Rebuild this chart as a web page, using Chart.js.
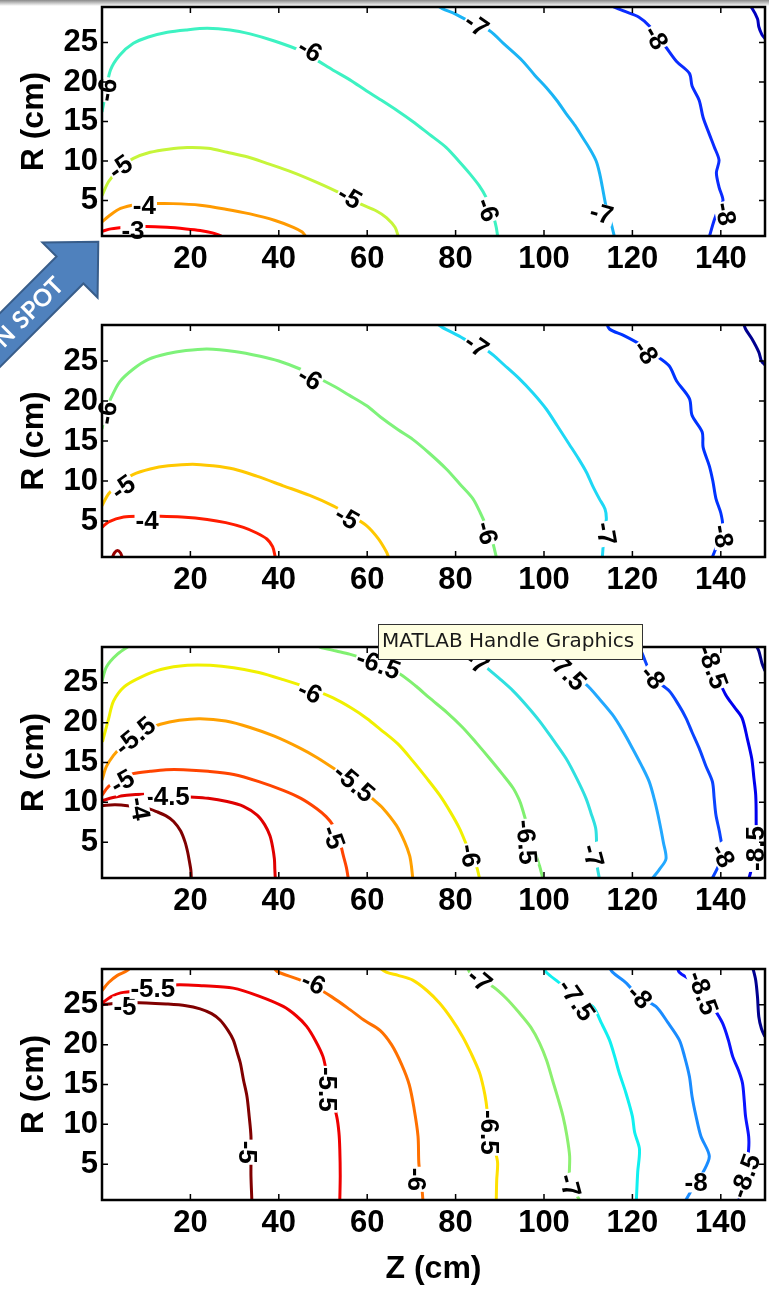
<!DOCTYPE html>
<html>
<head>
<meta charset="utf-8">
<script src="https://cdn.jsdelivr.net/npm/chart.js@4"></script>
<style>
  html, body { margin: 0; padding: 0; background: #fff; }
  body { width: 769px; height: 1289px; position: relative; overflow: hidden; }
  canvas { position: absolute; left: 0; }
  #topbar { position: absolute; left: 0; top: 0; width: 769px; height: 6px; background: linear-gradient(#8a8a8a, #ffffff); }
</style>
</head>
<body>
<div id="topbar"></div>
<canvas id="panel1" width="769" height="380" style="top:0px"></canvas>
<canvas id="panel2" width="769" height="310" style="top:300px"></canvas>
<canvas id="panel3" width="769" height="320" style="top:610px"></canvas>
<canvas id="panel4" width="769" height="349" style="top:940px"></canvas>
<script>
'use strict'

// axes (Z along the beam, R radial), both in cm
const zTicks = [20, 40, 60, 80, 100, 120, 140];
const rTicks = [5, 10, 15, 20, 25];
const zRange = [0, 150];
const rRange = [0.5, 29.5];

// ---- panel 1 contours: [Z, R] ----
const p1_levels = ['-3', '-4', '-5', '-6', '-7', '-8', '-9'];
const p1_c3 = [[0,1.1],[2,1.4],[5.6,1.6],[10,1.7],[14.7,1.6],[19,1.4],[22.2,1.2],[25,0.9],[27,0.5]];
const p1_c4 = [[0,2.3],[1.5,3],[4.2,4],[8,4.5],[11.7,4.6],[16,4.6],[22.2,4.4],[28,3.9],[33.5,3.3],[39,2.5],[43.3,1.6],[45.3,1],[46,0.5]];
const p1_c5 = [[0,5.6],[1.5,7.4],[4.2,9.2],[7,10.3],[10.9,11.1],[15,11.5],[19.3,11.7],[24,11.6],[28.3,11.1],[33,10.5],[37.3,9.7],[43,8.6],[48.6,7.3],[54,5.9],[58.3,4.6],[62,3.7],[64.4,2.8],[66.3,1.6],[67,0.5]];
const p1_c6 = [[0,16.2],[0.8,18.5],[1.9,21.5],[4,23.4],[7.1,24.9],[10.5,25.7],[14.8,26.3],[19,26.6],[23.8,26.8],[29,26.6],[33.5,26.1],[39,25.2],[44.8,24],[48.5,22.8],[52.3,21.5],[56,20.3],[59.8,18.9],[62.9,17.8],[67,16.3],[70.3,15],[74,13.4],[77.9,11.7],[80.7,10],[83.2,8.4],[85.3,6.9],[86.9,5.4],[88.3,3.5],[89.2,1.6],[89.5,0.5]];
const p1_c7 = [[75,30],[77,29.3],[80,28.6],[84.7,27.2],[87.7,26.5],[91,24.8],[95.1,22.7],[98,20.8],[100.5,19.3],[103,17.6],[105,16],[107,14.5],[108.7,13],[110.4,11.5],[111.8,10],[112.6,8.4],[113.2,6.7],[114.1,4.1],[115,2.5],[115.9,0.5]];
const p1_c8 = [[115,30],[115.5,29.6],[118,29],[121.5,28.2],[124,27],[127.6,24.4],[130,22.6],[132.9,21.1],[133.5,19.5],[135.1,17.7],[136,15.5],[137.4,13.4],[138.5,11.8],[139.6,10.1],[139,8.5],[139.6,6.7],[140.5,5],[139.6,4.1],[138.5,2.5],[137.4,0.4]];
const p1_c9 = [[146,30],[147,29.4],[148.3,28],[148.6,27],[149.3,26],[150,25.5]];
const p1_labels = [[1.2,19,'-6',-80],[47,24,'-6',30],[87.2,3.8,'-6',70],[4.2,9.2,'-5',-35],[56,5.4,'-5',30],[9.6,4.3,'-4',0],[7,1.2,'-3',0],[84.7,27.2,'-7',35],[113,3.3,'-7',15],[125.3,25.6,'-8',60],[141,3.3,'-8',80]];

// ---- panel 2 ----
const p2_levels = ['-3', '-4', '-5', '-6', '-7', '-8', '-9'];
const p2_c3 = [[2.3,0.4],[2.8,1],[3.5,1.3],[4.2,1],[4.6,0.4]];
const p2_c4 = [[0,4.2],[1.5,4.9],[4.9,5.5],[9,5.6],[13.2,5.6],[18,5.5],[23.8,5.2],[28,4.8],[32,4.2],[35,3.5],[37.3,2.75],[38.6,1.8],[39.2,0.5]];
const p2_c5 = [[0,6.9],[1.5,8.4],[4.2,9.8],[7,10.8],[10.9,11.5],[15,11.9],[20.5,12.1],[25,11.9],[29.8,11.5],[35,10.6],[41,9.4],[47,8.2],[52.3,6.9],[56.5,5.6],[59.9,4.4],[62.5,2.8],[64.4,1.1],[64.8,0.5]];
const p2_c6 = [[0,16.5],[0.8,18.5],[1.9,20.2],[4,22.4],[7.1,24],[10.5,25.2],[14.7,25.9],[19,26.3],[23.8,26.5],[30,26.2],[35.8,25.6],[40,25],[44.8,24],[48.5,23],[52.3,21.9],[56,20.7],[59.9,19.4],[63,18],[67,16.4],[70.3,15.2],[74,13.5],[77.9,11.5],[81,9.6],[83.9,7.8],[85.6,6],[86.9,4.4],[88.3,2.5],[89.2,0.5]];
const p2_c7 = [[75,30],[77,29.2],[80.5,28.2],[84.7,26.9],[87.7,26.1],[91,24.5],[94.4,22.8],[97.5,21],[100.5,19],[103,16.9],[105.7,14.6],[107.8,12.8],[109.6,11.1],[111,9.4],[112.5,7.8],[113.8,6.5],[114.1,5.2],[113.6,3.6],[113.4,2],[113.2,0.5]];
const p2_c8 = [[114,30],[114.8,29],[118,28.2],[122.3,26.9],[125,25.8],[128.3,24.4],[130,22.5],[132.9,20.3],[133.5,18.2],[135.8,16.1],[136,14.2],[137.4,11.9],[138.2,10],[138.9,7.8],[140,6],[140.4,4.4],[139.5,2.5],[138.1,0.5]];
const p2_c9 = [[145,30],[145.6,29],[147,27.8],[148.6,26.1],[149.2,25],[150,24.5]];
const p2_labels = [[1.2,18.5,'-6',-80],[47,22.8,'-6',30],[87,3.5,'-6',75],[4.8,9.2,'-5',-35],[55.4,5.4,'-5',30],[10.2,5,'-4',0],[84.7,26.9,'-7',35],[114,3.4,'-7',80],[123,26.1,'-8',55],[140.4,3.1,'-8',80]];

// ---- panel 3 ----
const p3_levels = ['-4', '-4.5', '-5', '-5.5', '-6', '-6.5', '-6.5', '-7', '-7.5', '-8', '-8.5', '-9'];
const p3_c40 = [[0,9.6],[3,9.7],[7.1,9.5],[10,9.3],[12.5,8.8],[14.5,8.3],[16.2,7.6],[17.8,6.4],[18.8,5],[19.4,3.7],[19.8,2.5],[20.1,1.5],[20.2,0.5]];
const p3_c45 = [[0,10.2],[2.5,10.6],[5.6,10.9],[10,11],[14.8,10.9],[19.3,10.7],[24,10.5],[28.3,10.1],[32,9.5],[35.1,8.4],[36.8,7.2],[38,5.8],[38.6,4.4],[39,2.9],[39.1,1.6],[39.2,0.5]];
const p3_c50 = [[0,10.9],[1.5,12],[4.2,13],[7,13.6],[10.9,13.9],[14.5,14.1],[18.4,14.1],[24,13.9],[29.8,13.5],[35.5,12.6],[41,11.5],[45,10.5],[48.6,9.2],[50.7,8.2],[52.3,7.1],[53.7,5.3],[54.6,3.3],[55.3,1.8],[55.7,0.5]];
const p3_c55 = [[0,12.8],[1,14.5],[2.6,15.9],[4.6,17.1],[7.1,18.1],[10,19.1],[13.2,19.8],[17.5,20.3],[22.2,20.5],[28,20.2],[33.5,19.4],[39,18.3],[44.8,16.8],[48.7,15.6],[52.3,14.3],[57,12.5],[61.3,10.4],[63.5,9.3],[66.6,7.1],[68.5,5],[69.6,3.3],[70,2],[70.3,0.5]];
const p3_c60 = [[0.1,17.6],[1.5,20.5],[2.6,22.7],[5,24.5],[8.7,25.7],[13.5,26.7],[19.3,27.2],[24.5,27.2],[29.8,26.9],[35.5,26.3],[41,25.4],[47,24.3],[52.3,23.1],[56.5,21.8],[60,20.5],[62.9,19.2],[67,17.3],[70.3,15.2],[73.5,13],[76.4,10.9],[78.8,8.8],[80.9,6.7],[82.6,4.5],[84.7,2],[85.4,0.5]];
const p3_c65a = [[0,25.2],[1,27],[3.5,28.6],[6.4,29.7],[8,30.2]];
const p3_c65b = [[47,30.2],[49.3,29.5],[53,29],[56,28.6],[60,27.9],[64,27],[67.4,26.1],[71,24.6],[74.1,23.1],[78,21.3],[81.6,19.4],[84.8,17.4],[87.7,15.5],[90.5,13.6],[93,11.8],[94.4,10.3],[95.1,9.2],[96.5,6.5],[97.8,4],[99,2],[99.7,0.5]];
const p3_c70 = [[82,30.2],[84.7,28],[87,26.9],[90,25.5],[93,24],[96,22.2],[99,20.2],[102,17.9],[105,15.5],[107.4,13],[109.5,10.5],[110.6,8.7],[111.7,6.7],[111.9,4.5],[111.9,2.5],[112.5,0.5]];
const p3_c75 = [[100,30.2],[101.5,28.8],[105,26.5],[109.5,24.8],[112.5,23],[115.5,21],[117.8,19],[120,16.8],[122,14.7],[123.8,12.6],[125,10.3],[126.1,7.6],[127,5],[127.6,2.9],[126,1.5],[124.6,0.5]];
const p3_c80 = [[120,30.2],[121.6,29.4],[124.6,25.7],[128.3,24],[130.5,22.2],[132.1,20.6],[133.5,18.8],[135.1,16.8],[136.6,14.6],[138.1,12.6],[138.5,10.5],[138.9,8.4],[139.8,6],[140.4,3.3],[139.3,1.8],[138.1,0.5]];
const p3_c85 = [[134.5,30.2],[135.1,29.4],[138.1,27],[141.1,23.5],[143,22],[144.8,20.6],[146,18],[147,15.5],[147.5,13],[147.9,10.9],[148,8],[147.9,4.2],[147.2,2.2],[146.4,0.5]];
const p3_c90 = [[147.5,30.2],[148.6,29],[149.3,27.5],[150,26.5]];
const p3_labels = [[62.5,27.3,'-6.5',20],[47,23.8,'-6',25],[83.2,3.3,'-6',80],[7.5,18.3,'-5.5',-40],[57,12.4,'-5.5',40],[4.6,12.6,'-5',-30],[52.3,5.6,'-5',70],[14.8,10.7,'-4.5',0],[8.5,9.2,'-4',80],[96,5,'-6.5',85],[84.7,27.6,'-7',35],[111,3.3,'-7',75],[105,26.5,'-7.5',45],[124.6,25.7,'-8',50],[140.4,3.3,'-8',60],[138.1,27,'-8.5',70],[147.9,4.2,'-8.5',-90]];

// ---- panel 4 ----
const p4_levels = ['-5', '-5.5', '-6', '-6', '-6.5', '-7', '-7.5', '-8', '-8.5', '-9'];
const p4_c50 = [[0,25],[3,25.2],[7.1,25.3],[14.7,25.1],[19,24.9],[22.2,24.5],[24.8,23.9],[26.7,23.1],[28.5,21.8],[29.7,20.6],[30.6,19],[31.3,17.7],[32,15.6],[32.8,13.5],[33.3,11],[33.7,8.5],[33.7,5],[33.7,3.5],[33.9,0.5]];
const p4_c55 = [[0,25.2],[2,26],[4.2,26.5],[10.9,26.9],[16.2,27.5],[23,27.4],[29.7,27.1],[35.5,26.1],[41,24.8],[44,23.6],[46.3,22.3],[48.3,20.5],[50,18.5],[50.8,16.5],[51.5,14.4],[53.1,11],[53.6,9],[53.8,6.9],[53.9,3.5],[53.8,0.5]];
const p4_c60a = [[0,26.8],[1.5,27.8],[3.5,28.7],[5.7,29.3],[7,30]];
const p4_c60b = [[38.5,30],[39.6,29.2],[44,28.3],[47.8,27.4],[52,26],[56.1,24.4],[59.5,23],[62.9,21.8],[65.5,20],[67.8,17.5],[69.5,15],[70.6,12],[71.5,8.5],[71.7,5],[72.3,2.5],[72.6,0.5]];
const p4_c65 = [[62,30],[64.3,29.1],[67,28.7],[70.3,28.1],[73.5,26.8],[76.4,25.2],[79,23.3],[81.6,21],[83.6,18.8],[85.4,16.5],[86.3,14.6],[86.9,12.8],[87.7,9],[88.8,7],[89.5,5.2],[89.3,3],[89.2,0.5]];
const p4_c70 = [[82.5,30],[83.2,29.1],[85.4,28.1],[88.4,27.3],[91.5,25.8],[94.4,24],[97,22.2],[99,20.2],[100.6,18],[101.9,15.6],[103.2,13.2],[104.3,11],[105.2,8.5],[105.8,6],[105.8,2.3],[107,1.5],[108,0.5]];
const p4_c75 = [[99.5,30],[100.5,29.1],[104,27.5],[107.3,25.6],[111,24.8],[113,22.7],[114.8,20.6],[116,18.5],[117,16.5],[118.5,14],[120,11],[120.5,9],[121.6,6.9],[121.2,4],[120.9,0.5]];
const p4_c80 = [[114.5,30],[115.5,29.1],[118.5,27.8],[121.6,26],[125.3,24.8],[128,22.8],[130.6,20.6],[131.8,18.5],[132.9,16],[133.5,13.5],[134.4,11],[135.5,8.5],[137.4,6],[136,4],[134.4,2.7],[132.1,0.5]];
const p4_c85 = [[130,30],[130.6,29.1],[133.5,28],[135.9,26.5],[138.5,24.5],[140.4,22.7],[141.7,20.6],[142.7,18.5],[144,16.8],[144.9,15.2],[145.3,13],[145.6,11],[146.3,8.5],[146.3,6.9],[145.6,3.5],[144.1,0.5]];
const p4_c90 = [[147,30],[147.4,29.3],[147.9,28.1],[148.3,26],[148.6,23.5],[149.2,22],[150,21]];
const p4_labels = [[5.2,24.8,'-5',0],[11.5,27,'-5.5',0],[47.8,27.7,'-6',25],[50.9,14.4,'-5.5',90],[32.8,6.5,'-5',90],[71.1,3.1,'-6',90],[87.7,9,'-6.5',90],[85.4,28.1,'-7',40],[105.8,2.3,'-7',75],[107.3,25.6,'-7.5',55],[121.6,26,'-8',45],[134.4,2.7,'-8',0],[135.9,26.5,'-8.5',70],[145.6,3.5,'-8.5',-70]];

const FONT = '"Liberation Sans", Arial, sans-serif';

function toDatasets(levels, lines, colors) {
    return lines.map((pts, i) => ({
        label: levels[i],
        data: pts.map(p => ({ x: p[0], y: p[1] })),
        showLine: true,
        borderColor: colors[i],
        borderWidth: 3,
        pointRadius: 0,
        tension: 0.3,
        fill: false
    }));
}

// contour labels, black box frame with inward ticks, optional extras
function decorations(labels, extra) {
    return {
        id: 'decorations',
        afterDatasetsDraw(chart) {
            const ctx = chart.ctx, xs = chart.scales.x, ys = chart.scales.y;
            ctx.save();
            ctx.font = 'bold 26px ' + FONT;
            ctx.textAlign = 'center';
            ctx.textBaseline = 'middle';
            labels.forEach(([x, y, text, angle]) => {
                const w = ctx.measureText(text).width;
                ctx.save();
                ctx.translate(xs.getPixelForValue(x), ys.getPixelForValue(y));
                ctx.rotate(angle * Math.PI / 180);
                ctx.fillStyle = '#fff';
                ctx.fillRect(-w / 2 - 1, -10, w + 2, 20);
                ctx.fillStyle = '#000';
                ctx.fillText(text, 0, 1);
                ctx.restore();
            });
            ctx.restore();
        },
        afterDraw(chart) {
            const ctx = chart.ctx, a = chart.chartArea;
            const xs = chart.scales.x, ys = chart.scales.y;
            ctx.save();
            ctx.strokeStyle = '#000';
            ctx.lineWidth = 1.5;
            ctx.beginPath();
            zTicks.forEach(v => {
                const px = xs.getPixelForValue(v);
                ctx.moveTo(px, a.bottom); ctx.lineTo(px, a.bottom - 6);
                ctx.moveTo(px, a.top); ctx.lineTo(px, a.top + 6);
            });
            rTicks.forEach(v => {
                const py = ys.getPixelForValue(v);
                ctx.moveTo(a.left, py); ctx.lineTo(a.left + 6, py);
                ctx.moveTo(a.right, py); ctx.lineTo(a.right - 6, py);
            });
            ctx.stroke();
            ctx.lineWidth = 2.5;
            ctx.strokeRect(a.left, a.top, a.right - a.left, a.bottom - a.top);
            ctx.restore();
            if (extra) extra(ctx);
        }
    };
}

function drawArrow(ctx) {
    ctx.save();
    ctx.translate(70, 270);
    ctx.rotate(-Math.PI / 4);
    ctx.beginPath();
    ctx.moveTo(-220, -19); ctx.lineTo(0, -19); ctx.lineTo(0, -39);
    ctx.lineTo(40, 0);
    ctx.lineTo(0, 39); ctx.lineTo(0, 19); ctx.lineTo(-220, 19);
    ctx.closePath();
    ctx.fillStyle = '#4f81bd';
    ctx.fill();
    ctx.strokeStyle = '#385d8a';
    ctx.lineWidth = 2;
    ctx.stroke();
    ctx.fillStyle = '#fff';
    ctx.font = 'bold 24px Lato, "Open Sans", sans-serif';
    ctx.textAlign = 'center';
    ctx.textBaseline = 'middle';
    ctx.fillText('SPOT', -46, 1);
    ctx.textAlign = 'right';
    ctx.fillText('ION', -84, 1);
    ctx.restore();
}

function drawHandleTip(ctx) {
    ctx.save();
    ctx.fillStyle = '#ffffe1';
    ctx.fillRect(378, 14, 264, 35);
    ctx.strokeStyle = '#333';
    ctx.lineWidth = 1;
    ctx.strokeRect(378.5, 14.5, 264, 35);
    ctx.fillStyle = '#1a1a1a';
    ctx.font = '20px "DejaVu Sans", sans-serif';
    ctx.textBaseline = 'middle';
    ctx.fillText('MATLAB Handle Graphics', 382, 32);
    ctx.restore();
}

function panelConfig(datasets, labels, box, extra) {
    const axisH = box.zTitle ? 89 : 40;
    const relBottom = box.bottom - box.canvasTop;
    return {
        type: 'scatter',
        data: { datasets: datasets },
        options: {
            responsive: false,
            animation: false,
            events: [],
            layout: {
                padding: { left: 0, right: 4, top: box.top - box.canvasTop, bottom: box.canvasH - relBottom - axisH }
            },
            plugins: { legend: { display: false }, tooltip: { enabled: false } },
            scales: {
                x: {
                    type: 'linear',
                    min: zRange[0], max: zRange[1],
                    afterBuildTicks: s => { s.ticks = zTicks.map(v => ({ value: v })); },
                    afterFit: s => { s.height = axisH; s.paddingLeft = 0; s.paddingRight = 0; },
                    grid: { display: false, drawTicks: false },
                    border: { display: false },
                    ticks: { color: '#000', padding: 5, maxRotation: 0, autoSkip: false, font: { family: FONT, size: 31, weight: 'bold' } },
                    title: { display: !!box.zTitle, text: 'Z (cm)', color: '#000', padding: { top: 0, bottom: 1 }, font: { family: FONT, size: 32, weight: 'bold' } }
                },
                y: {
                    type: 'linear',
                    min: rRange[0], max: rRange[1],
                    afterBuildTicks: s => { s.ticks = rTicks.map(v => ({ value: v })); },
                    afterFit: s => { s.width = 102; s.paddingTop = 0; s.paddingBottom = 0; },
                    grid: { display: false, drawTicks: false },
                    border: { display: false },
                    ticks: { color: '#000', padding: 4, autoSkip: false, font: { family: FONT, size: 31, weight: 'bold' } },
                    title: { display: true, text: 'R (cm)', color: '#000', padding: { top: 15, bottom: 0 }, font: { family: FONT, size: 32, weight: 'bold' } }
                }
            }
        },
        plugins: [decorations(labels, extra)]
    };
}

document.addEventListener('DOMContentLoaded', function() {
    const d1 = toDatasets(p1_levels, [p1_c3, p1_c4, p1_c5, p1_c6, p1_c7, p1_c8, p1_c9],
        ['#ff0000', '#ff9a00', '#c6f53a', '#3df2c2', '#1ab4f5', '#0a2cff', '#0000c0']);
    const d2 = toDatasets(p2_levels, [p2_c3, p2_c4, p2_c5, p2_c6, p2_c7, p2_c8, p2_c9],
        ['#990000', '#ff1c00', '#ffc800', '#7ef27a', '#1ed8f5', '#0033ff', '#00008f']);
    const d3 = toDatasets(p3_levels, [p3_c40, p3_c45, p3_c50, p3_c55, p3_c60, p3_c65a, p3_c65b, p3_c70, p3_c75, p3_c80, p3_c85, p3_c90],
        ['#800000', '#df0000', '#ff4400', '#ffa000', '#f0f000', '#80f070', '#80f070', '#2fe0e0', '#22a8ff', '#0a44ff', '#0000ee', '#000088']);
    const d4 = toDatasets(p4_levels, [p4_c50, p4_c55, p4_c60a, p4_c60b, p4_c65, p4_c70, p4_c75, p4_c80, p4_c85, p4_c90],
        ['#800000', '#ee0000', '#ff7000', '#ff7000', '#ffe000', '#8cf070', '#10f0f0', '#1a8cff', '#0a14ff', '#000090']);

    new Chart(document.getElementById('panel1').getContext('2d'),
        panelConfig(d1, p1_labels, { canvasTop: 0, canvasH: 380, top: 7, bottom: 236 }, drawArrow));
    new Chart(document.getElementById('panel2').getContext('2d'),
        panelConfig(d2, p2_labels, { canvasTop: 300, canvasH: 310, top: 325, bottom: 557 }));
    new Chart(document.getElementById('panel3').getContext('2d'),
        panelConfig(d3, p3_labels, { canvasTop: 610, canvasH: 320, top: 647, bottom: 878 }, drawHandleTip));
    new Chart(document.getElementById('panel4').getContext('2d'),
        panelConfig(d4, p4_labels, { canvasTop: 940, canvasH: 349, top: 969, bottom: 1200, zTitle: true }));
});
</script>
</body>
</html>
